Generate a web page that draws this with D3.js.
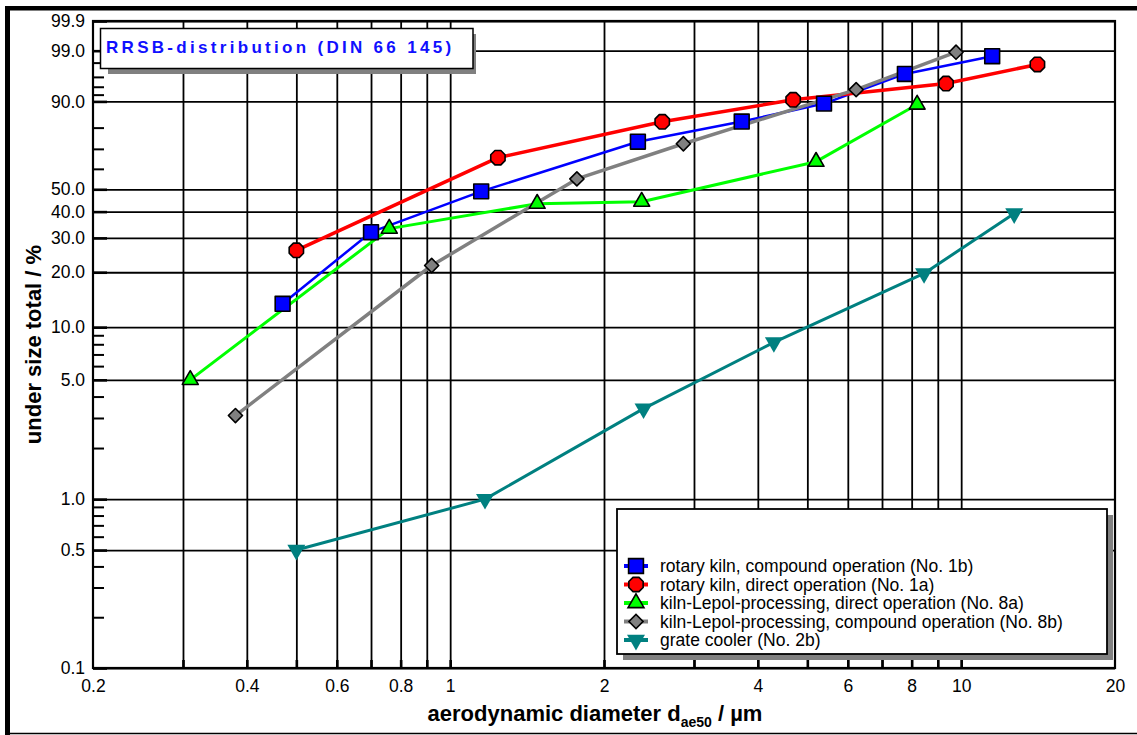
<!DOCTYPE html>
<html>
<head>
<meta charset="utf-8">
<script src="https://cdn.jsdelivr.net/npm/d3@7/dist/d3.min.js"></script>
<style>
  body { margin: 0; background: #fff; }
  svg { display: block; font-family: Arial, "Liberation Sans", sans-serif; }
</style>
</head>
<body>
<svg id="chart" width="1137" height="735"></svg>
<script>
// particle size (µm) and cumulative undersize (%) per plant
const sizeRotaryCompound = [0.47, 0.70, 1.15, 2.33, 3.72, 5.39, 7.76, 11.5];
const passRotaryCompound = [13.5, 32, 49, 73.5, 82.6, 89.3, 96.5, 98.6];

const sizeRotaryDirect = [0.5, 1.24, 2.60, 4.69, 9.34, 14.1];
const passRotaryDirect = [26, 65.6, 82.5, 90.5, 94.7, 97.8];

const sizeLepolDirect = [0.31, 0.76, 1.48, 2.37, 5.20, 8.20];
const passLepolDirect = [5.0, 33.3, 43.4, 44.3, 63.6, 89];

const sizeLepolCompound = [0.38, 0.92, 1.77, 2.86, 6.23, 9.77];
const passLepolCompound = [3.1, 21.7, 55, 72.5, 93.3, 98.9];

const sizeGrateCooler = [0.5, 1.17, 2.39, 4.30, 8.46, 12.7];
const passGrateCooler = [0.5, 1.0, 3.4, 8.2, 19.7, 39.2];

const seriesLabels = [
  'rotary kiln, compound operation (No. 1b)',
  'rotary kiln, direct operation (No. 1a)',
  'kiln-Lepol-processing, direct operation (No. 8a)',
  'kiln-Lepol-processing, compound operation (No. 8b)',
  'grate cooler (No. 2b)'
];

const xLabelTicks = [0.2, 0.4, 0.6, 0.8, 1, 2, 4, 6, 8, 10, 20];
const xGridTicks = [0.3, 0.4, 0.5, 0.6, 0.7, 0.8, 0.9, 1, 2, 3, 4, 5, 6, 7, 8, 9, 10];
const yMajorTicks = [99.9, 99.0, 90.0, 50.0, 40.0, 30.0, 20.0, 10.0, 5.0, 1.0, 0.5, 0.1];
const yMinorTicks = [98, 96, 94, 92, 80, 70, 60, 9, 8, 7, 6, 4, 3, 2, 0.9, 0.8, 0.7, 0.6, 0.4, 0.3, 0.2];

const titleText = 'RRSB-distribution (DIN 66 145)';

// ---- layout
const plot = { left: 93, top: 21, right: 1115, bottom: 668 };
const plotW = plot.right - plot.left;
const plotH = plot.bottom - plot.top;

const svg = d3.select('#chart');

const x = d3.scaleLog().domain([0.2, 20]).range([plot.left, plot.right]);

// RRSB ordinate: log(-ln(1 - F))
const rrsb = p => Math.log10(-Math.log(1 - p / 100));
const yLin = d3.scaleLinear().domain([rrsb(0.1), rrsb(99.9)]).range([plot.bottom, plot.top]);
const y = p => yLin(rrsb(p));
y.domain = () => [0.1, 99.9];
y.range = () => yLin.range();
y.copy = () => y;

// octagon marker for the red series
const symbolOctagon = {
  draw(ctx, size) {
    const r = Math.sqrt(size / (2 * Math.SQRT2));
    for (let i = 0; i < 8; i++) {
      const a = Math.PI / 8 + i * Math.PI / 4;
      const px = r * Math.cos(a), py = r * Math.sin(a);
      if (i === 0) ctx.moveTo(px, py); else ctx.lineTo(px, py);
    }
    ctx.closePath();
  }
};

const series = [
  { xs: sizeRotaryCompound, ys: passRotaryCompound, color: '#0000ff', width: 2.5, type: d3.symbolSquare, size: 220, rot: 0, stroke: '#000' },
  { xs: sizeRotaryDirect, ys: passRotaryDirect, color: '#ff0000', width: 3.5, type: symbolOctagon, size: 170, rot: 0, stroke: '#000' },
  { xs: sizeLepolDirect, ys: passLepolDirect, color: '#00ff00', width: 3, type: d3.symbolTriangle, size: 110, rot: 0, stroke: '#000' },
  { xs: sizeLepolCompound, ys: passLepolCompound, color: '#808080', width: 3.5, type: d3.symbolSquare, size: 100, rot: 45, stroke: '#000' },
  { xs: sizeGrateCooler, ys: passGrateCooler, color: '#008080', width: 3, type: d3.symbolTriangle, size: 140, rot: 180, stroke: 'none' }
];
series.forEach((s, i) => {
  s.label = seriesLabels[i];
  s.points = s.xs.map((v, j) => ({ x: v, y: s.ys[j] }));
});

// ---- outer frame
svg.append('rect').attr('x', 5).attr('y', 6).attr('width', 1132).attr('height', 4.5).attr('fill', '#000');
svg.append('rect').attr('x', 5).attr('y', 6).attr('width', 5).attr('height', 729).attr('fill', '#000');
svg.append('line').attr('x1', 5).attr('x2', 1137).attr('y1', 733.5).attr('y2', 733.5)
  .attr('stroke', '#000').attr('stroke-width', 1.5);

// ---- grid
const gridY = svg.append('g').attr('transform', `translate(${plot.left},0)`)
  .call(d3.axisLeft(y).tickValues(yMajorTicks).tickSize(-plotW).tickFormat(''));
gridY.select('.domain').remove();
gridY.selectAll('line').attr('stroke', '#000').attr('stroke-width', 1.8);

const gridX = svg.append('g').attr('transform', `translate(0,${plot.bottom})`)
  .call(d3.axisBottom(x).tickValues(xGridTicks).tickSize(-plotH).tickFormat(''));
gridX.select('.domain').remove();
gridX.selectAll('line').attr('stroke', '#000').attr('stroke-width', 1.8);

// ---- ticks
const yMajor = svg.append('g').attr('transform', `translate(${plot.left},0)`)
  .call(d3.axisLeft(y).tickValues(yMajorTicks).tickSize(-14).tickPadding(8).tickFormat(d3.format('.1f')));
yMajor.select('.domain').remove();
yMajor.selectAll('line').attr('stroke', '#000').attr('stroke-width', 2.6);
yMajor.selectAll('text').attr('font-size', 17.5).attr('fill', '#000')
  .attr('font-family', 'Arial, "Liberation Sans", sans-serif');

const yMinor = svg.append('g').attr('transform', `translate(${plot.left},0)`)
  .call(d3.axisLeft(y).tickValues(yMinorTicks).tickSize(-11).tickFormat(''));
yMinor.select('.domain').remove();
yMinor.selectAll('line').attr('stroke', '#000').attr('stroke-width', 2);

const xTicks = svg.append('g').attr('transform', `translate(0,${plot.bottom})`)
  .call(d3.axisBottom(x).tickValues(xGridTicks).tickSize(-8).tickFormat(''));
xTicks.select('.domain').remove();
xTicks.selectAll('line').attr('stroke', '#000').attr('stroke-width', 2.6);

const xLabels = svg.append('g').attr('transform', `translate(0,${plot.bottom})`)
  .call(d3.axisBottom(x).tickValues(xLabelTicks).tickSize(0).tickPadding(12).tickFormat(d => String(d)));
xLabels.select('.domain').remove();
xLabels.selectAll('text').attr('font-size', 17.5).attr('fill', '#000')
  .attr('font-family', 'Arial, "Liberation Sans", sans-serif');

// plot border
svg.append('rect').attr('x', plot.left).attr('y', plot.top).attr('width', plotW).attr('height', plotH)
  .attr('fill', 'none').attr('stroke', '#000').attr('stroke-width', 2.2);

// ---- title box
svg.append('rect').attr('x', 108).attr('y', 34).attr('width', 368).attr('height', 40).attr('fill', '#808080');
svg.append('rect').attr('x', 100.5).attr('y', 28.5).attr('width', 372.5).attr('height', 40)
  .attr('fill', '#fff').attr('stroke', '#000').attr('stroke-width', 1.5);
svg.append('text').attr('x', 106).attr('y', 52.5).attr('fill', '#1010ff')
  .attr('font-size', 17).attr('font-weight', 'bold').attr('letter-spacing', 3.3)
  .text(titleText);

// ---- series lines and markers
const line = d3.line().x(d => x(d.x)).y(d => y(d.y));

svg.append('g').selectAll('path')
  .data(series)
  .join('path')
  .attr('d', s => line(s.points))
  .attr('fill', 'none')
  .attr('stroke', s => s.color)
  .attr('stroke-width', s => s.width)
  .attr('stroke-linejoin', 'round')
  .attr('stroke-linecap', 'round');

series.forEach(s => {
  svg.append('g').selectAll('path')
    .data(s.points)
    .join('path')
    .attr('transform', d => `translate(${x(d.x)},${y(d.y)}) rotate(${s.rot})`)
    .attr('d', d3.symbol().type(s.type).size(s.size))
    .attr('fill', s.color)
    .attr('stroke', s.stroke)
    .attr('stroke-width', 1.6)
    .attr('stroke-linejoin', 'round');
});

// ---- legend
const legend = { x: 617, y: 509, w: 490, h: 145 };
svg.append('rect').attr('x', legend.x + 6).attr('y', legend.y + 6).attr('width', legend.w).attr('height', legend.h)
  .attr('fill', '#808080');
svg.append('rect').attr('x', legend.x).attr('y', legend.y).attr('width', legend.w).attr('height', legend.h)
  .attr('fill', '#fff').attr('stroke', '#000').attr('stroke-width', 1.8);

const rows = svg.append('g').selectAll('g')
  .data(series)
  .join('g')
  .attr('transform', (s, i) => `translate(${legend.x + 19},${legend.y + 57 + i * 18.5})`);
rows.append('line').attr('x1', -12).attr('x2', 12)
  .attr('stroke', s => s.color).attr('stroke-width', 4);
rows.append('path')
  .attr('transform', s => `rotate(${s.rot})`)
  .attr('d', s => d3.symbol().type(s.type).size(s.size)())
  .attr('fill', s => s.color)
  .attr('stroke', s => s.stroke)
  .attr('stroke-width', 1.6);
rows.append('text').attr('x', 24).attr('dy', '0.35em')
  .attr('font-size', 17.5).attr('fill', '#000')
  .text(s => s.label);

// ---- axis titles
svg.append('text')
  .attr('transform', `translate(41,${(plot.top + plot.bottom) / 2}) rotate(-90)`)
  .attr('text-anchor', 'middle').attr('font-size', 22).attr('font-weight', 'bold')
  .text('under size total / %');

const xTitle = svg.append('text').attr('x', 595).attr('y', 721)
  .attr('text-anchor', 'middle').attr('font-size', 22).attr('font-weight', 'bold');
xTitle.append('tspan').text('aerodynamic diameter d');
xTitle.append('tspan').attr('font-size', 14).attr('dy', 6).text('ae50');
xTitle.append('tspan').attr('dy', -6).text(' / µm');
</script>
</body>
</html>
